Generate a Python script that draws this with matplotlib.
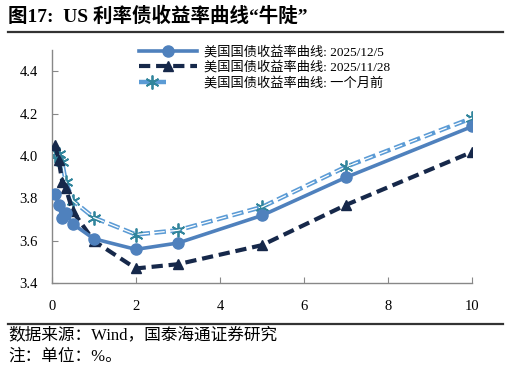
import matplotlib
matplotlib.use("Agg")
import matplotlib.pyplot as plt
from matplotlib.lines import Line2D
from matplotlib.legend_handler import HandlerTuple

plt.rcParams['font.family'] = ['Liberation Serif', 'Noto Sans CJK SC']

# maturities in years: 1M 2M 3M 4M 6M 1Y 2Y 3Y 5Y 7Y 10Y
tenors = [1/12, 2/12, 3/12, 4/12, 6/12, 1, 2, 3, 5, 7, 10]
y_1205 = [3.82, 3.77, 3.71, 3.73, 3.68, 3.61, 3.56, 3.59, 3.72, 3.90, 4.14]
y_1128 = [4.05, 3.98, 3.88, 3.85, 3.74, 3.60, 3.47, 3.49, 3.58, 3.77, 4.02]
y_1m = [4.00, 4.01, 3.97, 3.88, 3.79, 3.71, 3.63, 3.65, 3.76, 3.95, 4.18]

labels = ['美国国债收益率曲线: 2025/12/5', '美国国债收益率曲线: 2025/11/28', '美国国债收益率曲线: 一个月前']
xticks = [0, 2, 4, 6, 8, 10]
yticks = [3.4, 3.6, 3.8, 4.0, 4.2, 4.4]

fig = plt.figure(figsize=(5.09, 3.71), dpi=100)
ax = fig.add_axes([0.1016, 0.2364, 0.8264, 0.6286])

# one month ago: double line (light blue with white core)
outer, = ax.plot(tenors, y_1m, color='#5b9bd5', lw=3.2, dashes=(2.6, 1.0),
                 marker=(6, 2, 0), ms=10, mec='#31859c', mew=1.3, zorder=2)
inner, = ax.plot(tenors, y_1m, color='white', lw=0.9, dashes=(9.2, 3.5), zorder=2.1)
l2, = ax.plot(tenors, y_1128, color='#16284a', lw=3.0, dashes=(2.7, 1.4),
              marker='^', ms=7, mfc='#16284a', mec='#16284a', zorder=3)
l1, = ax.plot(tenors, y_1205, color='#4f81bd', lw=2.6, marker='o', ms=8,
              mfc='#4f81bd', mec='#4f81bd', zorder=4)

ax.set_xlim(0, 10)
ax.set_ylim(3.4, 4.5)
ax.set_xticks(xticks)
ax.set_yticks(yticks)
ax.set_yticklabels(['%.1f' % v for v in yticks])
for s in ['top', 'right']:
    ax.spines[s].set_visible(False)
for s in ['left', 'bottom']:
    ax.spines[s].set_color('#888888')
    ax.spines[s].set_linewidth(1.0)
ax.tick_params(direction='in', length=4, color='#888888', labelsize=10.5, pad=12)
ax.tick_params(axis='y', pad=10)

leg = ax.legend([l1, l2, (outer, inner)], labels, loc='upper left',
                bbox_to_anchor=(0.18, 1.07), frameon=False, fontsize=9.5,
                handlelength=4.4, handletextpad=0.5, labelspacing=0.2,
                handler_map={tuple: HandlerTuple(ndivide=None)})

fig.text(0.016, 0.955, '图17:  US 利率债收益率曲线“牛陡”', fontsize=14, fontweight='bold',
         ha='left', va='center')
fig.add_artist(Line2D([0.016, 0.988], [0.913, 0.913], color='#333333', lw=1.6))
fig.add_artist(Line2D([0.016, 0.988], [0.128, 0.128], color='#333333', lw=1.6))
fig.text(0.016, 0.097, '数据来源：Wind，国泰海通证券研究', fontsize=12, ha='left', va='center')
fig.text(0.016, 0.038, '注：单位：%。', fontsize=12, ha='left', va='center')

fig.savefig('out.png', dpi=100)
